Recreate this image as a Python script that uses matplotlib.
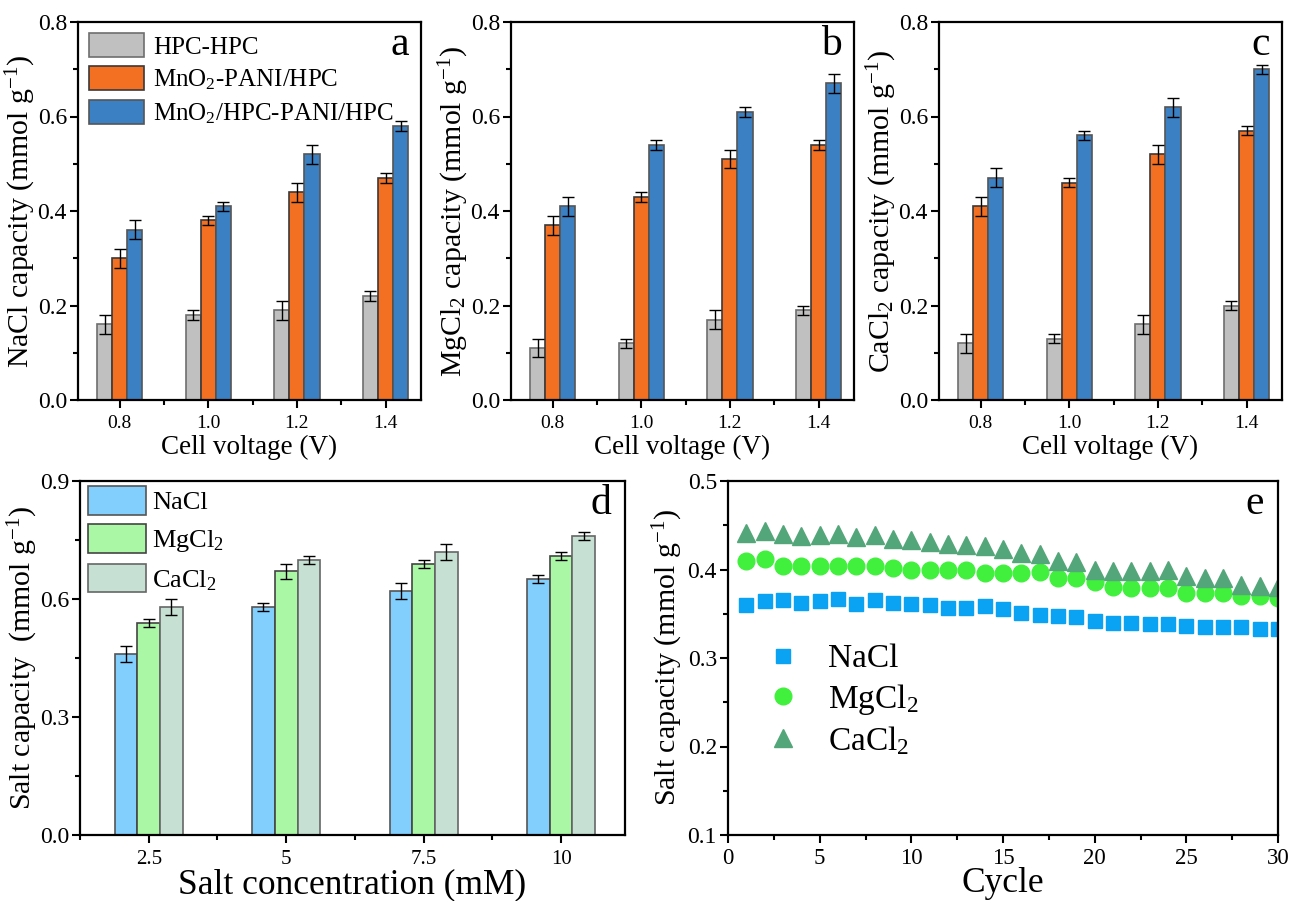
import matplotlib
matplotlib.use("Agg")
import matplotlib.pyplot as plt
import numpy as np
from matplotlib.ticker import MultipleLocator, FixedLocator

plt.rcParams['font.family'] = ['Liberation Serif', 'DejaVu Serif']
plt.rcParams['mathtext.fontset'] = 'custom'
plt.rcParams['mathtext.rm'] = 'Liberation Serif'
plt.rcParams['mathtext.it'] = 'Liberation Serif:italic'
plt.rcParams['mathtext.bf'] = 'Liberation Serif:bold'

# ---------------- data ----------------
voltages = ['0.8', '1.0', '1.2', '1.4']
series_abc = ['HPC-HPC', r'MnO$_2$-PANI/HPC', r'MnO$_2$/HPC-PANI/HPC']

nacl_hpc = [0.16, 0.18, 0.19, 0.22]
nacl_mp = [0.30, 0.38, 0.44, 0.47]
nacl_mhp = [0.36, 0.41, 0.52, 0.58]
nacl_hpc_err = [0.02, 0.01, 0.02, 0.01]
nacl_mp_err = [0.02, 0.01, 0.02, 0.01]
nacl_mhp_err = [0.02, 0.01, 0.02, 0.01]

mgcl_hpc = [0.11, 0.12, 0.17, 0.19]
mgcl_mp = [0.37, 0.43, 0.51, 0.54]
mgcl_mhp = [0.41, 0.54, 0.61, 0.67]
mgcl_hpc_err = [0.02, 0.01, 0.02, 0.01]
mgcl_mp_err = [0.02, 0.01, 0.02, 0.01]
mgcl_mhp_err = [0.02, 0.01, 0.01, 0.02]

cacl_hpc = [0.12, 0.13, 0.16, 0.20]
cacl_mp = [0.41, 0.46, 0.52, 0.57]
cacl_mhp = [0.47, 0.56, 0.62, 0.70]
cacl_hpc_err = [0.02, 0.01, 0.02, 0.01]
cacl_mp_err = [0.02, 0.01, 0.02, 0.01]
cacl_mhp_err = [0.02, 0.01, 0.02, 0.01]

concentrations = ['2.5', '5', '7.5', '10']
salts = ['NaCl', r'MgCl$_2$', r'CaCl$_2$']
conc_nacl = [0.46, 0.58, 0.62, 0.65]
conc_mgcl = [0.54, 0.67, 0.69, 0.71]
conc_cacl = [0.58, 0.70, 0.72, 0.76]
conc_nacl_err = [0.02, 0.01, 0.02, 0.01]
conc_mgcl_err = [0.01, 0.02, 0.01, 0.01]
conc_cacl_err = [0.02, 0.01, 0.02, 0.01]

cycles = list(range(1, 31))
cyc_nacl = [0.360, 0.364, 0.366, 0.362, 0.364, 0.367, 0.361, 0.365, 0.362, 0.361,
            0.360, 0.357, 0.356, 0.359, 0.355, 0.351, 0.349, 0.347, 0.346, 0.342,
            0.340, 0.339, 0.338, 0.338, 0.336, 0.335, 0.335, 0.335, 0.333, 0.333]
cyc_mgcl = [0.410, 0.412, 0.404, 0.404, 0.404, 0.404, 0.404, 0.404, 0.402, 0.400,
            0.400, 0.400, 0.400, 0.396, 0.396, 0.396, 0.397, 0.390, 0.390, 0.386,
            0.380, 0.379, 0.379, 0.379, 0.373, 0.373, 0.373, 0.370, 0.370, 0.368]
cyc_cacl = [0.441, 0.444, 0.440, 0.438, 0.439, 0.440, 0.437, 0.439, 0.435, 0.433,
            0.431, 0.429, 0.428, 0.427, 0.423, 0.419, 0.417, 0.410, 0.408, 0.399,
            0.398, 0.398, 0.398, 0.400, 0.393, 0.390, 0.390, 0.383, 0.381, 0.380]

# ---------------- style ----------------
c_grey = '#C0C0C0'
c_orange = '#F36F21'
c_blue = '#3B80C3'
c_na = '#82CFFD'
c_mg = '#AAF8A6'
c_ca = '#C6E1D3'
m_na = '#0AA2F2'
m_mg = '#40F03C'
m_ca = '#53A679'

W, H = 1290, 901
fig = plt.figure(figsize=(W / 100, H / 100), dpi=100)


def ax_px(l, t, r, b):
    return fig.add_axes([l / W, 1 - b / H, (r - l) / W, (b - t) / H])


def style(ax):
    for s in ax.spines.values():
        s.set_linewidth(1.6)
    ax.tick_params(which='both', direction='out', top=False, right=False, width=1.5)
    ax.tick_params(which='major', length=6)
    ax.tick_params(which='minor', length=3.5)


def bar_panel(ax, vals, errs, colors, edgecolors, labels, width, xlabels):
    x = np.arange(len(xlabels))
    n = len(vals)
    offs = (np.arange(n) - (n - 1) / 2) * width
    for v, e, c, ec, lab, o in zip(vals, errs, colors, edgecolors, labels, offs):
        ax.bar(x + o, v, width, color=c, edgecolor=ec, linewidth=1.2, label=lab,
               yerr=e, capsize=4, error_kw=dict(elinewidth=1, capthick=1, ecolor='black'))
    ax.set_xticks(x)
    ax.set_xticklabels(xlabels)
    ax.xaxis.set_minor_locator(FixedLocator(np.arange(-0.5, len(xlabels), 1.0)))


cols3 = [c_grey, c_orange, c_blue]
edges3 = ['#6E6E6E', '#3A3A3A', '#555555']

abc_data = [
    ([nacl_hpc, nacl_mp, nacl_mhp], [nacl_hpc_err, nacl_mp_err, nacl_mhp_err], 'NaCl capacity (mmol g$^{-1}$)', 'a'),
    ([mgcl_hpc, mgcl_mp, mgcl_mhp], [mgcl_hpc_err, mgcl_mp_err, mgcl_mhp_err], 'MgCl$_2$ capacity (mmol g$^{-1}$)', 'b'),
    ([cacl_hpc, cacl_mp, cacl_mhp], [cacl_hpc_err, cacl_mp_err, cacl_mhp_err], 'CaCl$_2$ capacity (mmol g$^{-1}$)', 'c'),
]
lefts = [78, 511, 939]
for i, (vals, errs, ylab, letter) in enumerate(abc_data):
    ax = ax_px(lefts[i], 22, lefts[i] + 343, 400)
    bar_panel(ax, vals, errs, cols3, edges3, series_abc, 0.17, voltages)
    ax.set_xlim(-0.47, 3.4)
    ax.set_ylim(0, 0.8)
    ax.set_yticks([0.0, 0.2, 0.4, 0.6, 0.8])
    ax.set_yticklabels(['0.0', '0.2', '0.4', '0.6', '0.8'])
    ax.yaxis.set_minor_locator(MultipleLocator(0.1))
    style(ax)
    ax.tick_params(axis='x', labelsize=14, pad=5)
    ax.tick_params(axis='y', labelsize=17, pad=2)
    ax.set_xlabel('Cell voltage (V)', fontsize=19.5, labelpad=2)
    ax.set_ylabel(ylab, fontsize=21.5, labelpad=0)
    ax.text(0.965, 0.99, letter, transform=ax.transAxes, fontsize=30, ha='right', va='top')
    if i == 0:
        ax.legend(loc='upper left', bbox_to_anchor=(0.0, 1.0), fontsize=18, frameon=False,
                  handlelength=2.2, handleheight=1.1, handletextpad=0.35, labelspacing=0.3,
                  borderaxespad=0.15, borderpad=0.3)

# ---------------- panel d ----------------
axd = ax_px(80, 481, 625, 835)
bar_panel(axd, [conc_nacl, conc_mgcl, conc_cacl], [conc_nacl_err, conc_mgcl_err, conc_cacl_err],
          [c_na, c_mg, c_ca], ['#555555', '#444444', '#666666'], salts, 0.165, concentrations)
axd.set_xlim(-0.5, 3.465)
axd.set_ylim(0, 0.9)
axd.set_yticks([0.0, 0.3, 0.6, 0.9])
axd.set_yticklabels(['0.0', '0.3', '0.6', '0.9'])
axd.yaxis.set_minor_locator(MultipleLocator(0.15))
style(axd)
axd.tick_params(axis='x', labelsize=15, pad=5)
axd.tick_params(axis='y', labelsize=17, pad=2)
axd.set_xlabel('Salt concentration (mM)', fontsize=25.5, labelpad=-1)
axd.set_ylabel('Salt capacity  (mmol g$^{-1}$)', fontsize=21.5, labelpad=0)
axd.text(0.975, 0.99, 'd', transform=axd.transAxes, fontsize=30, ha='right', va='top')
axd.legend(loc='upper left', bbox_to_anchor=(-0.005, 1.015), fontsize=19, frameon=False,
           handlelength=2.2, handleheight=1.3, handletextpad=0.25, labelspacing=0.35,
           borderaxespad=0.1, borderpad=0.3)

# ---------------- panel e ----------------
axe = ax_px(728, 481, 1278, 835)
axe.plot(cycles, cyc_nacl, 's', color=m_na, markersize=10.5, linestyle='none', label='NaCl')
axe.plot(cycles, cyc_mgcl, 'o', color=m_mg, markersize=12, linestyle='none', label='MgCl$_2$')
axe.plot(cycles, cyc_cacl, '^', color=m_ca, markersize=12.5, linestyle='none', label='CaCl$_2$')
axe.set_xlim(0, 30)
axe.set_ylim(0.1, 0.5)
axe.xaxis.set_major_locator(MultipleLocator(5))
axe.xaxis.set_minor_locator(MultipleLocator(2.5))
axe.yaxis.set_major_locator(MultipleLocator(0.1))
axe.yaxis.set_minor_locator(MultipleLocator(0.05))
style(axe)
axe.tick_params(axis='y', labelsize=17, pad=2)
axe.tick_params(axis='x', labelsize=16.5, pad=3)
axe.set_xlabel('Cycle', fontsize=25.5, labelpad=-1)
axe.set_ylabel('Salt capacity (mmol g$^{-1}$)', fontsize=21.5, labelpad=2)
axe.text(0.975, 0.99, 'e', transform=axe.transAxes, fontsize=30, ha='right', va='top')
axe.legend(loc='center left', bbox_to_anchor=(0.0, 0.38), fontsize=24, frameon=False,
           handletextpad=0.6, labelspacing=0.22, handlelength=1.5)

fig.savefig('out.png', dpi=100)
